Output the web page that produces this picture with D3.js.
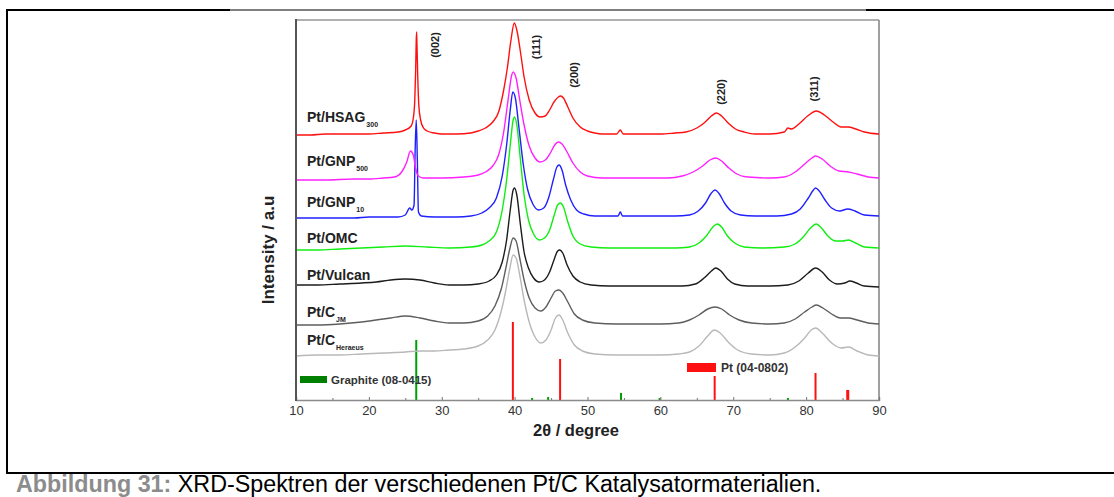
<!DOCTYPE html>
<html>
<head>
<meta charset="utf-8">
<script src="https://cdn.jsdelivr.net/npm/d3@7/dist/d3.min.js"></script>
<style>
  body { margin: 0; background: #fff; }
  svg { display: block; }
  text { font-family: "Liberation Sans", Arial, sans-serif; }
</style>
</head>
<body>
<svg id="chart" width="1114" height="497"></svg>
<script>
// XRD patterns, [2θ (deg), intensity (a.u., stacked with offsets)]
const hsag300 = [[10,265],[12,265],[14,266],[16,266],[18,266],[20,266],[22,267],[24,268],[25,270],[25.8,274],[26.1,282],[26.3,300],[26.42,330],[26.5,360],[26.55,368],[26.6,355],[26.7,325],[26.85,295],[27.1,280],[27.5,272],[28,269],[29,267],[30,266],[32,266],[34,267],[35,269],[36,272],[37,278],[37.8,288],[38.5,310],[39,332],[39.5,360],[39.95,377],[40.3,370],[40.8,348],[41.3,323],[42,300],[42.8,287],[43.5,283],[44.2,284],[44.8,290],[45.4,298],[46.0,303],[46.3,304],[46.7,302],[47.3,293],[48,282],[49,273],[50,269],[51,267],[52,266],[54,266],[54.5,270],[54.9,266],[56,266],[58,266],[60,266],[62,267],[63.5,268],[65,272],[66,277],[67,284],[67.7,287],[68.4,284],[69.3,277],[70.3,271],[71.5,268],[73,266],[75,266],[77,268],[77.5,272],[78,271],[79,276],[80.2,284],[81.4,289],[82.5,285],[83.7,278],[84.8,273],[85.8,273],[86.8,271],[88,268],[90,266]];
const gnp500 = [[10,220],[14,220],[18,221],[20,221],[22,222],[23.5,223],[24.5,228],[25.2,238],[25.7,249],[26.1,245],[26.4,232],[26.8,224],[27.5,222],[30,222],[33,223],[35,225],[36,228],[37,234],[37.8,245],[38.5,268],[39.1,300],[39.6,325],[39.8,328],[40.2,322],[40.7,300],[41.3,275],[42,254],[42.8,242],[43.5,238],[44.2,240],[44.9,247],[45.5,255],[46.0,258],[46.5,256],[47.2,248],[48,237],[49,228],[50,224],[52,222],[55,222],[58,222],[61,222],[63,224],[64.5,228],[65.8,234],[66.8,240],[67.6,242],[68.4,239],[69.4,232],[70.5,226],[72,223],[75,222],[77,223],[78.5,228],[79.8,236],[80.8,242],[81.3,244],[82.2,241],[83.3,234],[84.5,229],[85.8,228],[87,226],[88.5,223],[90,222]];
const gnp10 = [[10,182],[14,182],[18,182],[20,183],[22,183],[24,183],[25,185],[25.6,192],[25.9,190],[26.2,195],[26.35,250],[26.5,280],[26.65,240],[26.8,188],[27.2,184],[29,183],[32,183],[34,184],[35.5,187],[36.5,192],[37.5,202],[38.3,224],[38.9,255],[39.4,290],[39.75,308],[40.1,302],[40.6,272],[41.2,235],[41.8,210],[42.5,196],[43.3,190],[44,192],[44.7,203],[45.3,220],[45.8,233],[46.1,235],[46.5,230],[47,215],[47.7,200],[48.5,190],[49.5,186],[51,184],[53,184],[54.2,184],[54.5,188],[54.8,184],[56,184],[59,184],[62,184],[64,185],[65.2,189],[66.2,197],[67,207],[67.5,210],[68,207],[68.8,197],[69.7,189],[71,185],[73,184],[76,184],[78,186],[79.2,191],[80.3,202],[81,210],[81.3,212],[81.8,209],[82.6,200],[83.5,192],[84.6,189],[85.7,191],[86.7,189],[88,185],[90,184]];
const omc = [[10,150],[13,150],[16,151],[19,152],[22,153],[25,154],[28,153],[31,152],[34,153],[35.5,155],[36.5,159],[37.5,168],[38.3,190],[38.9,220],[39.4,255],[39.8,280],[40.0,283],[40.3,275],[40.8,240],[41.3,205],[41.9,180],[42.6,166],[43.4,160],[44.1,162],[44.8,170],[45.4,184],[45.9,195],[46.3,197],[46.7,193],[47.3,178],[48,164],[49,156],[50.5,153],[53,152],[56,152],[59,152],[62,152],[64,153],[65.3,157],[66.3,164],[67.2,173],[67.8,176],[68.4,173],[69.2,164],[70.2,157],[71.5,153],[74,152],[77,153],[78.5,156],[79.6,163],[80.6,172],[81.4,176],[82.1,172],[83,164],[84,159],[85,159],[85.8,160],[86.8,157],[88,153],[90,152]];
const vulcan = [[10,115],[13,115],[16,116],[19,117],[21,118],[23,120],[25,121],[27,120],[29,117],[31,115],[33,115],[35,116],[36.5,119],[37.5,125],[38.3,138],[38.9,160],[39.4,190],[39.8,210],[40.0,212],[40.3,205],[40.8,175],[41.3,148],[41.9,132],[42.6,122],[43.4,118],[44.1,120],[44.8,128],[45.4,140],[45.9,149],[46.2,150],[46.6,147],[47.2,135],[48,124],[49,118],[50.5,115],[53,114],[56,114],[60,114],[63,114],[64.8,116],[66,122],[67,129],[67.6,132],[68.3,129],[69.2,121],[70.2,116],[72,114],[75,114],[77.5,115],[79,119],[80.3,127],[81.3,132],[82.2,128],[83.2,120],[84.3,116],[85.3,117],[86,119],[86.9,117],[88,114],[90,113]];
const cJM = [[10,75],[13,75],[16,76],[19,78],[21,80],[23,82],[25,84],[27,82],[29,79],[31,77],[33,77],[35,79],[36.3,84],[37.3,94],[38.2,112],[38.8,132],[39.3,150],[39.8,162],[40.2,159],[40.7,142],[41.3,120],[42,102],[42.8,92],[43.6,89],[44.3,93],[45,102],[45.6,109],[46.1,110],[46.6,107],[47.3,98],[48.2,86],[49.3,80],[51,77],[54,76],[57,76],[60,76],[62.5,77],[64,80],[65.3,85],[66.5,91],[67.5,93],[68.4,91],[69.5,85],[70.8,80],[72.5,77],[75,76],[77,77],[78.5,81],[79.8,88],[80.8,93],[81.4,95],[82.3,92],[83.5,86],[84.7,82],[85.8,82],[87,80],[88.5,77],[90,76]];
const cHeraeus = [[10,44],[13,45],[16,45],[19,46],[22,47],[25,48],[27,49],[29,49],[31,50],[33,51],[35,54],[36.3,60],[37.3,70],[38.2,90],[38.8,110],[39.3,130],[39.8,145],[40.2,142],[40.7,125],[41.3,100],[42,78],[42.8,63],[43.6,57],[44.3,60],[45,70],[45.6,82],[46.1,85],[46.6,80],[47.3,67],[48.2,55],[49.3,49],[51,46],[54,45],[57,45],[60,45],[62.5,46],[64,48],[65.3,54],[66.5,64],[67.4,70],[68.2,67],[69.3,58],[70.6,50],[72.5,46],[75,45],[77,47],[78.5,53],[79.8,62],[80.7,70],[81.3,72],[82.2,67],[83.5,57],[84.8,52],[85.8,53],[87,49],[88.5,45],[90,44]];

// Reference patterns (PDF cards)
const ptAngles = [39.76, 46.24, 67.45, 81.29, 85.71];
const ptHeights = [78, 41, 24, 27, 10];
const graphiteAngles = [26.5, 42.4, 44.6, 54.6, 59.9, 77.5];
const graphiteHeights = [60, 2, 3, 7, 2, 2];

// Miller indices of the reflections
const hklLabels = ["(002)", "(111)", "(200)", "(220)", "(311)"];

// Sample names: main text + subscript
const sampleNames = ["Pt/HSAG", "Pt/GNP", "Pt/GNP", "Pt/OMC", "Pt/Vulcan", "Pt/C", "Pt/C"];
const sampleSubs = ["300", "500", "10", "", "", "JM", "Heraeus"];

const xTicks = [10, 20, 30, 40, 50, 60, 70, 80, 90];
const xMinorTicks = [15, 25, 35, 45, 55, 65, 75, 85];

const series = [hsag300, gnp500, gnp10, omc, vulcan, cJM, cHeraeus];
const seriesColors = ["#ff1010", "#ff20ff", "#2020ff", "#10ee10", "#1c1c1c", "#5e5e5e", "#b8b8b8"];

// label placement (2θ of text centre / a.u. of text centre)
const labelIntensity = [283, 239, 198, 162, 125, 88, 60];
const hklPos = [[29.1, 355], [42.9, 353], [48.1, 325], [68.3, 308], [81.1, 311]];

const svg = d3.select("#chart");
const x = d3.scaleLinear().domain([10, 90]).range([296, 879]);
const y = d3.scaleLinear().domain([0, 380]).range([400, 20]);

// page frame
svg.append("line").attr("x1", 7).attr("x2", 7).attr("y1", 9).attr("y2", 474).attr("stroke", "#000").attr("stroke-width", 2);
svg.append("line").attr("x1", 6).attr("x2", 230).attr("y1", 10).attr("y2", 10).attr("stroke", "#000").attr("stroke-width", 2);
svg.append("line").attr("x1", 230).attr("x2", 866).attr("y1", 10).attr("y2", 10).attr("stroke", "#000").attr("stroke-width", 1);
svg.append("line").attr("x1", 866).attr("x2", 1114).attr("y1", 10).attr("y2", 10).attr("stroke", "#000").attr("stroke-width", 2);
svg.append("line").attr("x1", 6).attr("x2", 1114).attr("y1", 473).attr("y2", 473).attr("stroke", "#000").attr("stroke-width", 2);

// plot frame
svg.append("line").attr("x1", x(10)).attr("x2", x(90)).attr("y1", y(380)).attr("y2", y(380)).attr("stroke", "#b0b0b0").attr("stroke-width", 2);
svg.append("line").attr("x1", x(90)).attr("x2", x(90)).attr("y1", y(380)).attr("y2", y(0)).attr("stroke", "#808080").attr("stroke-width", 1.5);

// reference sticks
const sticks = svg.append("g");
sticks.selectAll("line.gr").data(graphiteAngles).join("line").attr("class", "gr")
  .attr("x1", d => x(d)).attr("x2", d => x(d))
  .attr("y1", y(0)).attr("y2", (d, i) => y(graphiteHeights[i]))
  .attr("stroke", "#00a000").attr("stroke-width", 2);
sticks.selectAll("line.pt").data(ptAngles).join("line").attr("class", "pt")
  .attr("x1", d => x(d)).attr("x2", d => x(d))
  .attr("y1", y(0)).attr("y2", (d, i) => y(ptHeights[i]))
  .attr("stroke", "#ff1010").attr("stroke-width", (d, i) => i === 4 ? 3 : 2);

// patterns
const line = d3.line().x(d => x(d[0])).y(d => y(d[1])).curve(d3.curveMonotoneX);
svg.append("g").selectAll("path").data(series.slice().reverse()).join("path")
  .attr("d", line).attr("fill", "none")
  .attr("stroke", (d, i) => seriesColors[series.length - 1 - i])
  .attr("stroke-width", 1.4).attr("stroke-linejoin", "round");

// axes
const axis = svg.append("g").attr("transform", `translate(0,${y(0)})`)
  .call(d3.axisBottom(x).tickValues(xTicks).tickSize(-3).tickPadding(6).tickFormat(d3.format("d")));
axis.select(".domain").attr("stroke", "#8a8a8a").attr("stroke-width", 1.5);
axis.selectAll(".tick line").attr("stroke", "#777");
axis.selectAll(".tick text").attr("font-size", 13).attr("fill", "#333")
  .style("font-family", "'Liberation Sans', Arial, sans-serif");
const minor = svg.append("g").attr("transform", `translate(0,${y(0)})`)
  .call(d3.axisBottom(x).tickValues(xMinorTicks).tickSize(-2).tickFormat(""));
minor.select(".domain").remove();
minor.selectAll(".tick line").attr("stroke", "#777");
svg.append("line").attr("x1", x(10)).attr("x2", x(10)).attr("y1", y(380) - 1).attr("y2", y(0) + 1)
  .attr("stroke", "#555").attr("stroke-width", 2);

// axis titles
svg.append("text").attr("x", 576).attr("y", 436).attr("text-anchor", "middle")
  .attr("font-size", 16.5).attr("font-weight", "bold").attr("fill", "#222").text("2θ / degree");
svg.append("text").attr("transform", "translate(274,250) rotate(-90)").attr("text-anchor", "middle")
  .attr("font-size", 17).attr("font-weight", "bold").attr("fill", "#222").text("Intensity / a.u");

// hkl labels
svg.append("g").selectAll("text").data(hklLabels).join("text")
  .attr("transform", (d, i) => `translate(${x(hklPos[i][0])},${y(hklPos[i][1])}) rotate(-90)`)
  .attr("text-anchor", "middle").attr("dy", "0.35em")
  .attr("font-size", 11).attr("font-weight", "bold").attr("fill", "#222").text(d => d);

// sample labels
const lab = svg.append("g").selectAll("text").data(sampleNames).join("text")
  .attr("x", 307).attr("y", (d, i) => y(labelIntensity[i]) + 5)
  .attr("font-size", 14).attr("font-weight", "bold").attr("fill", "#222");
lab.append("tspan").text(d => d);
lab.append("tspan").attr("dx", 1).attr("dy", 5).attr("font-size", 7).text((d, i) => sampleSubs[i]);

// reference legends
svg.append("rect").attr("x", 300).attr("y", 376).attr("width", 27).attr("height", 7).attr("fill", "#008000");
svg.append("text").attr("x", 331).attr("y", 384).attr("font-size", 11.5).attr("font-weight", "bold")
  .attr("fill", "#333").text("Graphite (08-0415)");
svg.append("rect").attr("x", 687).attr("y", 363).attr("width", 29).attr("height", 9).attr("fill", "#ff1010");
svg.append("text").attr("x", 721).attr("y", 372).attr("font-size", 12).attr("font-weight", "bold")
  .attr("fill", "#333").text("Pt (04-0802)");

// caption
const cap = svg.append("text").attr("x", 16).attr("y", 491.5).attr("font-size", 23.3);
cap.append("tspan").attr("font-weight", "bold").attr("fill", "#8c8c8c").text("Abbildung 31:");
cap.append("tspan").attr("fill", "#000").text(" XRD-Spektren der verschiedenen Pt/C Katalysatormaterialien.");
</script>
</body>
</html>
